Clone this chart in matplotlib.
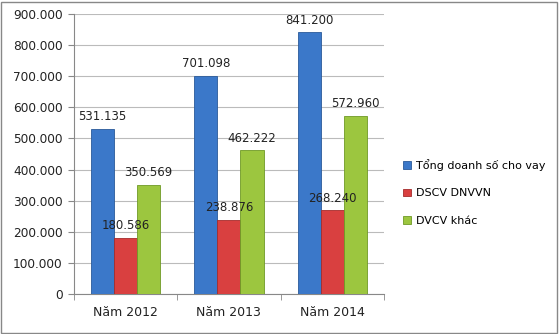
import numpy as np
import matplotlib.pyplot as plt
from matplotlib.patches import Rectangle

years = ["Năm 2012", "Năm 2013", "Năm 2014"]
series_names = ["Tổng doanh số cho vay", "DSCV DNVVN", "DVCV khác"]
tong_ds = [531135, 701098, 841200]
dscv_dnvvn = [180586, 238876, 268240]
dvcv_khac = [350569, 462222, 572960]

colors = ["#3B78C9", "#D94040", "#9CC63F"]
edges = ["#2A5A9A", "#A52C2C", "#6F9A26"]


def fmt(v):
    return f"{v:,.0f}".replace(",", ".")


fig = plt.figure(figsize=(5.59, 3.34), dpi=100)
ax = fig.add_axes([0.132, 0.12, 0.555, 0.838])

x = np.arange(len(years))
w = 0.223
for i, (vals, c, e, name) in enumerate(zip([tong_ds, dscv_dnvvn, dvcv_khac], colors, edges, series_names)):
    pos = x + (i - 1) * w
    bars = ax.bar(pos, vals, w, color=c, edgecolor=e, linewidth=0.6, label=name, zorder=3)
    for b, v in zip(bars, vals):
        ax.annotate(fmt(v), (b.get_x() + b.get_width() / 2, v), xytext=(0, 4),
                    textcoords="offset points", ha="center", va="bottom",
                    fontsize=8.5, color="#222222", zorder=4)

ax.set_ylim(0, 900000)
ax.set_yticks(np.arange(0, 900001, 100000))
ax.set_yticklabels([fmt(v) for v in np.arange(0, 900001, 100000)], fontsize=8.7, color="#222222")
ax.set_xlim(-0.5, 2.5)
ax.set_xticks(x)
ax.set_xticklabels(years, fontsize=9, color="#222222")
ax.tick_params(axis="x", length=0, pad=9)
ax.set_xticks([-0.5, 0.5, 1.5, 2.5], minor=True)
ax.tick_params(axis="x", which="minor", length=4, color="#888888")
ax.tick_params(axis="y", length=4, color="#888888", pad=4)
ax.yaxis.grid(True, color="#BBBBBB", linewidth=0.8, zorder=0)
for s in ["top", "right"]:
    ax.spines[s].set_visible(False)
ax.spines["left"].set_color("#888888")
ax.spines["bottom"].set_color("#888888")

fig.legend(loc="center left", bbox_to_anchor=(0.703, 0.424), frameon=False,
           fontsize=8, handlelength=0.7, handleheight=0.7, labelspacing=1.6,
           handletextpad=0.5)

fig.patches.append(Rectangle((0.002, 0.004), 0.995, 0.99, transform=fig.transFigure,
                             fill=False, edgecolor="#888888", linewidth=1))

fig.savefig("out.png", dpi=100)
